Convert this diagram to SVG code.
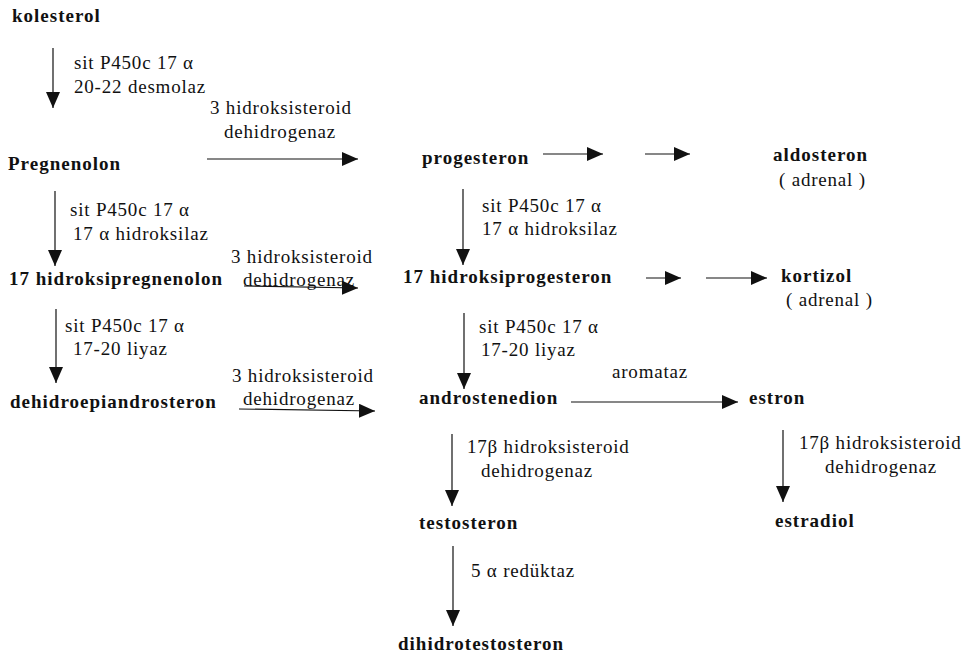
<svg xmlns="http://www.w3.org/2000/svg" width="964" height="655" viewBox="0 0 964 655">
  <style>
    text { font-family: "Liberation Serif", "Times New Roman", serif; fill: #111; font-size: 19px; letter-spacing: 0.8px; }
    .node text { font-weight: bold; letter-spacing: 1px; }
    .node text.sub { font-weight: normal; letter-spacing: 0.8px; }
    .edge { stroke: #111; stroke-width: 1.2; fill: none; marker-end: url(#head); }
  </style>
  <defs>
    <marker id="head" markerUnits="userSpaceOnUse" markerWidth="16" markerHeight="14" refX="16" refY="7" orient="auto">
      <path d="M0,0 L16,7 L0,14 Z" fill="#111"/>
    </marker>
  </defs>
  <rect width="964" height="655" fill="#fff"/>

  <!-- compounds -->
  <g id="kolesterol" class="node"><text x="12" y="22">kolesterol</text></g>
  <g id="pregnenolon" class="node"><text x="8" y="170">Pregnenolon</text></g>
  <g id="hidroksipregnenolon" class="node"><text x="9" y="285">17 hidroksipregnenolon</text></g>
  <g id="dhea" class="node"><text x="10" y="408">dehidroepiandrosteron</text></g>
  <g id="progesteron" class="node"><text x="422" y="164">progesteron</text></g>
  <g id="hidroksiprogesteron" class="node"><text x="403" y="283">17 hidroksiprogesteron</text></g>
  <g id="androstenedion" class="node"><text x="419" y="404">androstenedion</text></g>
  <g id="testosteron" class="node"><text x="419" y="529">testosteron</text></g>
  <g id="dihidrotestosteron" class="node"><text x="398" y="650">dihidrotestosteron</text></g>
  <g id="aldosteron" class="node">
    <text x="773" y="161">aldosteron</text>
    <text class="sub" x="779" y="186">( adrenal )</text>
  </g>
  <g id="kortizol" class="node">
    <text x="781" y="282">kortizol</text>
    <text class="sub" x="786" y="306">( adrenal )</text>
  </g>
  <g id="estron" class="node"><text x="749" y="404">estron</text></g>
  <g id="estradiol" class="node"><text x="775" y="527">estradiol</text></g>

  <!-- reactions -->
  <g id="connectors">
    <!-- left column -->
    <line class="edge" x1="53" y1="48" x2="53" y2="108"/>
    <text x="74" y="69">sit P450c 17 α</text>
    <text x="74" y="93">20-22 desmolaz</text>

    <line class="edge" x1="55" y1="191" x2="55" y2="266"/>
    <text x="70" y="216">sit P450c 17 α</text>
    <text x="73" y="240">17 α hidroksilaz</text>

    <line class="edge" x1="56" y1="309" x2="56" y2="383"/>
    <text x="65" y="332">sit P450c 17 α</text>
    <text x="73" y="355">17-20 liyaz</text>

    <!-- 3 hidroksisteroid dehidrogenaz steps -->
    <line class="edge" x1="207" y1="159" x2="358" y2="159"/>
    <text x="210" y="114">3 hidroksisteroid</text>
    <text x="224" y="138">dehidrogenaz</text>

    <line class="edge" x1="244" y1="286" x2="358" y2="288"/>
    <text x="231" y="263">3 hidroksisteroid</text>
    <text x="243" y="286">dehidrogenaz</text>

    <line class="edge" x1="239" y1="409" x2="375" y2="411"/>
    <text x="232" y="382">3 hidroksisteroid</text>
    <text x="243" y="405">dehidrogenaz</text>

    <!-- progesteron column -->
    <line class="edge" x1="543" y1="154" x2="603" y2="154"/>
    <line class="edge" x1="645" y1="154" x2="690" y2="154"/>

    <line class="edge" x1="463" y1="189" x2="463" y2="265"/>
    <text x="482" y="212">sit P450c 17 α</text>
    <text x="482" y="235">17 α hidroksilaz</text>

    <line class="edge" x1="646" y1="278" x2="681" y2="278"/>
    <line class="edge" x1="706" y1="278" x2="767" y2="278"/>

    <line class="edge" x1="464" y1="313" x2="464" y2="389"/>
    <text x="479" y="333">sit P450c 17 α</text>
    <text x="481" y="356">17-20 liyaz</text>

    <line class="edge" x1="571" y1="402" x2="738" y2="402"/>
    <text x="612" y="378">aromataz</text>

    <line class="edge" x1="452" y1="434" x2="452" y2="506"/>
    <text x="467" y="453">17β hidroksisteroid</text>
    <text x="481" y="477">dehidrogenaz</text>

    <line class="edge" x1="783" y1="430" x2="783" y2="502"/>
    <text x="799" y="449">17β hidroksisteroid</text>
    <text x="825" y="473">dehidrogenaz</text>

    <line class="edge" x1="453" y1="546" x2="453" y2="626"/>
    <text x="471" y="577">5 α redüktaz</text>
  </g>
</svg>
